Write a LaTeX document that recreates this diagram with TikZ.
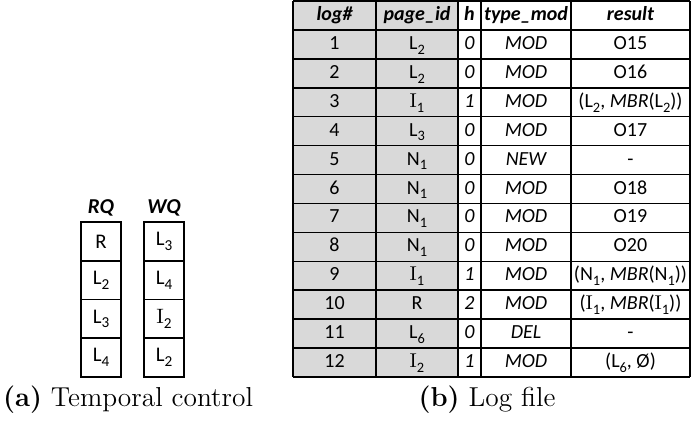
\documentclass[tikz,border=0pt]{standalone}
\usepackage{fontspec}
\newfontfamily\tabfont{Carlito}
\definecolor{cellgray}{HTML}{D9D9D9}
\newcommand{\sbs}[1]{\raisebox{-0.5ex}{\fontsize{7.2}{8}\selectfont #1}}
\newcommand{\qsbs}[1]{\raisebox{-0.5ex}{\fontsize{7.6}{8}\selectfont #1}}
\newcommand{\Ir}{{\rmfamily I}}
\tikzset{
  tc/.style={anchor=base, inner sep=0pt, font=\tabfont\fontsize{10}{12}\selectfont},
  th/.style={tc, font=\tabfont\bfseries\itshape\fontsize{10}{12}\selectfont},
  qbox/.style={draw, line width=0.75pt, minimum width=20pt, minimum height=19.3pt, inner sep=0pt, font=\tabfont\fontsize{10.4}{12}\selectfont},
  qlab/.style={anchor=base, inner sep=0pt, font=\tabfont\bfseries\itshape\fontsize{10.6}{12}\selectfont},
  captext/.style={anchor=base, inner sep=0pt, font=\fontsize{13.7}{16}\selectfont},
  gridline/.style={line width=0.75pt}
}
\newcommand{\logrow}[6]{%
  \pgfmathsetmacro{\yb}{1+28.92*#1+19.5}%
  \node[tc] (r#1a) at (334.5,\yb) {#2};
  \node[tc] (r#1b) at (417,\yb) {#3};
  \node[tc] (r#1c) at (469.5,\yb) {\itshape #4};
  \node[tc] (r#1d) at (526,\yb) {\itshape #5};
  \node[tc] (r#1e) at (630.5,\yb) {#6};
}
\begin{document}
\begin{tikzpicture}[x=0.5pt,y=-0.5pt]
\useasboundingbox (0,0) rectangle (691,426);
% ---------- (a) queues ----------
\node[qlab] (rq) at (101,214) {RQ};
\node[qlab] (wq) at (164,214) {WQ};
\foreach \t [count=\i from 0] in {R,L\qsbs{2},L\qsbs{3},L\qsbs{4}}{
  \node[qbox] (rq\i) at (101,{241.4+38.75*\i}) {\t};
}
\foreach \t [count=\i from 0] in {L\qsbs{3},L\qsbs{4},\Ir\qsbs{2},L\qsbs{2}}{
  \node[qbox] (wq\i) at (164,{241.4+38.75*\i}) {\t};
}
\node[captext] (capa) at (128,407) {\textbf{(a)} Temporal control};
% ---------- (b) log table ----------
\fill[cellgray] (293,1) rectangle (458,377);
\foreach \k in {0,...,13}{
  \draw[gridline] (293,{1+28.92*\k}) -- (690,{1+28.92*\k});
}
\foreach \xx in {293,376,458,481,571,690}{
  \draw[gridline] (\xx,1) -- (\xx,377);
}
\node[th] (h1) at (334.5,21) {log\#};
\node[th] (h2) at (417,21) {page\_id};
\node[th] (h3) at (469.5,21) {h};
\node[th] (h4) at (526,21) {type\_mod};
\node[th] (h5) at (630.5,21) {result};
\logrow{1}{1}{L\sbs{2}}{0}{MOD}{O15}
\logrow{2}{2}{L\sbs{2}}{0}{MOD}{O16}
\logrow{3}{3}{\Ir\sbs{1}}{1}{MOD}{(L\sbs{2}, \textit{MBR}(L\sbs{2}))}
\logrow{4}{4}{L\sbs{3}}{0}{MOD}{O17}
\logrow{5}{5}{N\sbs{1}}{0}{NEW}{-}
\logrow{6}{6}{N\sbs{1}}{0}{MOD}{O18}
\logrow{7}{7}{N\sbs{1}}{0}{MOD}{O19}
\logrow{8}{8}{N\sbs{1}}{0}{MOD}{O20}
\logrow{9}{9}{\Ir\sbs{1}}{1}{MOD}{(N\sbs{1}, \textit{MBR}(N\sbs{1}))}
\logrow{10}{10}{R}{2}{MOD}{(\Ir\sbs{1}, \textit{MBR}(\Ir\sbs{1}))}
\logrow{11}{11}{L\sbs{6}}{0}{DEL}{-}
\logrow{12}{12}{\Ir\sbs{2}}{1}{MOD}{(L\sbs{6}, Ø)}
\node[captext] (capb) at (487,407) {\textbf{(b)} Log file};
\end{tikzpicture}
\end{document}
